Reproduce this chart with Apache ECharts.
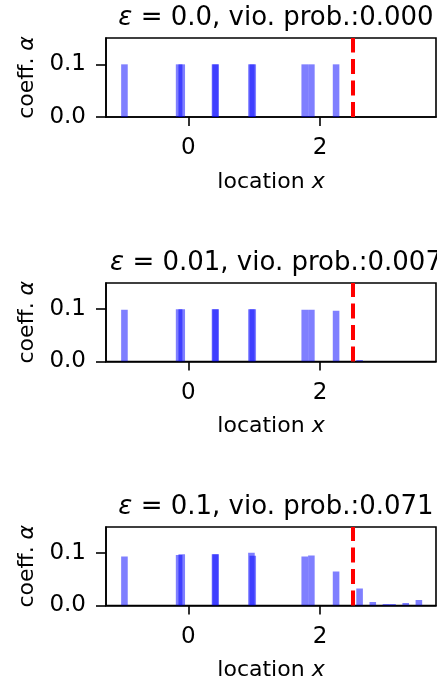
<!DOCTYPE html>
<html><head><meta charset="utf-8">
<script src="https://cdn.jsdelivr.net/npm/echarts@6/dist/echarts.min.js"></script>
<style>html,body{margin:0;padding:0;background:#fff}#c{width:437px;height:681px}</style>
</head><body><div id="c"></div>
<script>
// ---- data ----
const epsLabels = ['0.0', '0.01', '0.1'];
const vioProbs = ['0.000', '0.007', '0.071'];
const threshold = 2.5;
const xTicks = [0, 2];
const yTicks = [0, 0.1];
const xMin = -1.25, xMax = 3.76, yMin = 0, yMax = 0.15;

const loc0  = [-0.97, -0.14, -0.10, 0.405, 0.415, 0.958, 0.978, 1.767, 1.868, 2.243];
const coef0 = [0.1, 0.1, 0.1, 0.1, 0.1, 0.1, 0.1, 0.1, 0.1, 0.1];

const loc1  = [-0.97, -0.14, -0.10, 0.405, 0.415, 0.958, 0.978, 1.767, 1.868, 2.243, 2.6];
const coef1 = [0.0987, 0.1, 0.1, 0.1, 0.1, 0.1, 0.1, 0.099, 0.099, 0.097, 0.003];

const loc2  = [-0.97, -0.14, -0.10, 0.405, 0.415, 0.958, 0.978, 1.767, 1.868, 2.243, 2.6, 2.8, 3.0, 3.1, 3.3, 3.5];
const coef2 = [0.0936, 0.0967, 0.098, 0.098, 0.098, 0.101, 0.095, 0.0936, 0.0955, 0.065, 0.0326, 0.0068, 0.003, 0.003, 0.005, 0.0107];

const panels = [[loc0, coef0], [loc1, coef1], [loc2, coef2]];

// ---- layout / style ----
const BAR_W = 0.1;
const FONT = 'DejaVu Sans';
const gridTops = [38, 283, 527];
const gridH = [79, 78.5, 78.5];
const GL = 106, GW = 330;

const chart = echarts.init(document.getElementById('c'), null, {renderer: 'canvas'});

function renderBar(params, api) {
  const x = api.value(0), h = api.value(1);
  const p0 = api.coord([x - BAR_W / 2, h]);
  const p1 = api.coord([x + BAR_W / 2, 0]);
  return {
    type: 'rect',
    shape: {x: p0[0], y: p0[1], width: p1[0] - p0[0], height: p1[1] - p0[1]},
    style: {fill: 'rgba(0,0,255,0.5)'}
  };
}

const grid = [], xAxis = [], yAxis = [], series = [], title = [];
panels.forEach((p, i) => {
  grid.push({left: GL, width: GW, top: gridTops[i], height: gridH[i], show: true,
    borderColor: '#000', borderWidth: 1.6, containLabel: false, outerBoundsMode: 'none'});
  xAxis.push({
    type: 'value', gridIndex: i, min: xMin, max: xMax,
    axisLine: {show: true, onZero: false, lineStyle: {color: '#000', width: 1.6}},
    axisTick: {show: true, length: 9, customValues: xTicks, lineStyle: {color: '#000', width: 1.6}},
    axisLabel: {customValues: xTicks, color: '#000', fontFamily: FONT, fontSize: 23, margin: 20},
    splitLine: {show: false},
    name: '{a|location }{b|x}', nameLocation: 'middle', nameGap: 54,
    nameTextStyle: {color: '#000', fontFamily: FONT, fontSize: 22,
      rich: {a: {fontFamily: FONT, fontSize: 22, color: '#000'},
             b: {fontFamily: FONT, fontSize: 22, color: '#000', fontStyle: 'italic'}}}
  });
  yAxis.push({
    type: 'value', gridIndex: i, min: yMin, max: yMax,
    axisLine: {show: true, onZero: false, lineStyle: {color: '#000', width: 1.6}},
    axisTick: {show: true, length: 10, customValues: yTicks, lineStyle: {color: '#000', width: 1.6}},
    axisLabel: {customValues: yTicks, color: '#000', fontFamily: FONT, fontSize: 23, margin: 20,
      formatter: v => v.toFixed(1)},
    splitLine: {show: false},
    name: '{a|coeff. }{b|α}', nameLocation: 'middle', nameGap: 67, nameRotate: 90,
    nameTextStyle: {color: '#000', fontFamily: FONT, fontSize: 22,
      rich: {a: {fontFamily: FONT, fontSize: 22, color: '#000'},
             b: {fontFamily: FONT, fontSize: 22, color: '#000', fontStyle: 'italic'}}}
  });
  series.push({
    type: 'custom', xAxisIndex: i, yAxisIndex: i, renderItem: renderBar, clip: true,
    data: p[0].map((x, k) => [x, p[1][k]]), z: 2, silent: true
  });
  series.push({
    type: 'line', xAxisIndex: i, yAxisIndex: i, symbol: 'none', z: 3, silent: true,
    data: [[threshold, yMin], [threshold, yMax]],
    lineStyle: {color: '#ff0000', width: 4, type: [15, 6.5], cap: 'butt'}
  });
  title.push({
    text: '{e|ε}{n| = ' + epsLabels[i] + ', vio. prob.:' + vioProbs[i] + '}',
    left: GL + GW / 2, top: gridTops[i] - 38, textAlign: 'center',
    textStyle: {fontFamily: FONT, fontSize: 26, fontWeight: 'normal', color: '#000',
      rich: {e: {fontFamily: FONT, fontSize: 26, fontStyle: 'italic', color: '#000'},
             n: {fontFamily: FONT, fontSize: 26, color: '#000'}}}
  });
});

chart.setOption({animation: false, backgroundColor: '#fff', title, grid, xAxis, yAxis, series});
</script></body></html>
